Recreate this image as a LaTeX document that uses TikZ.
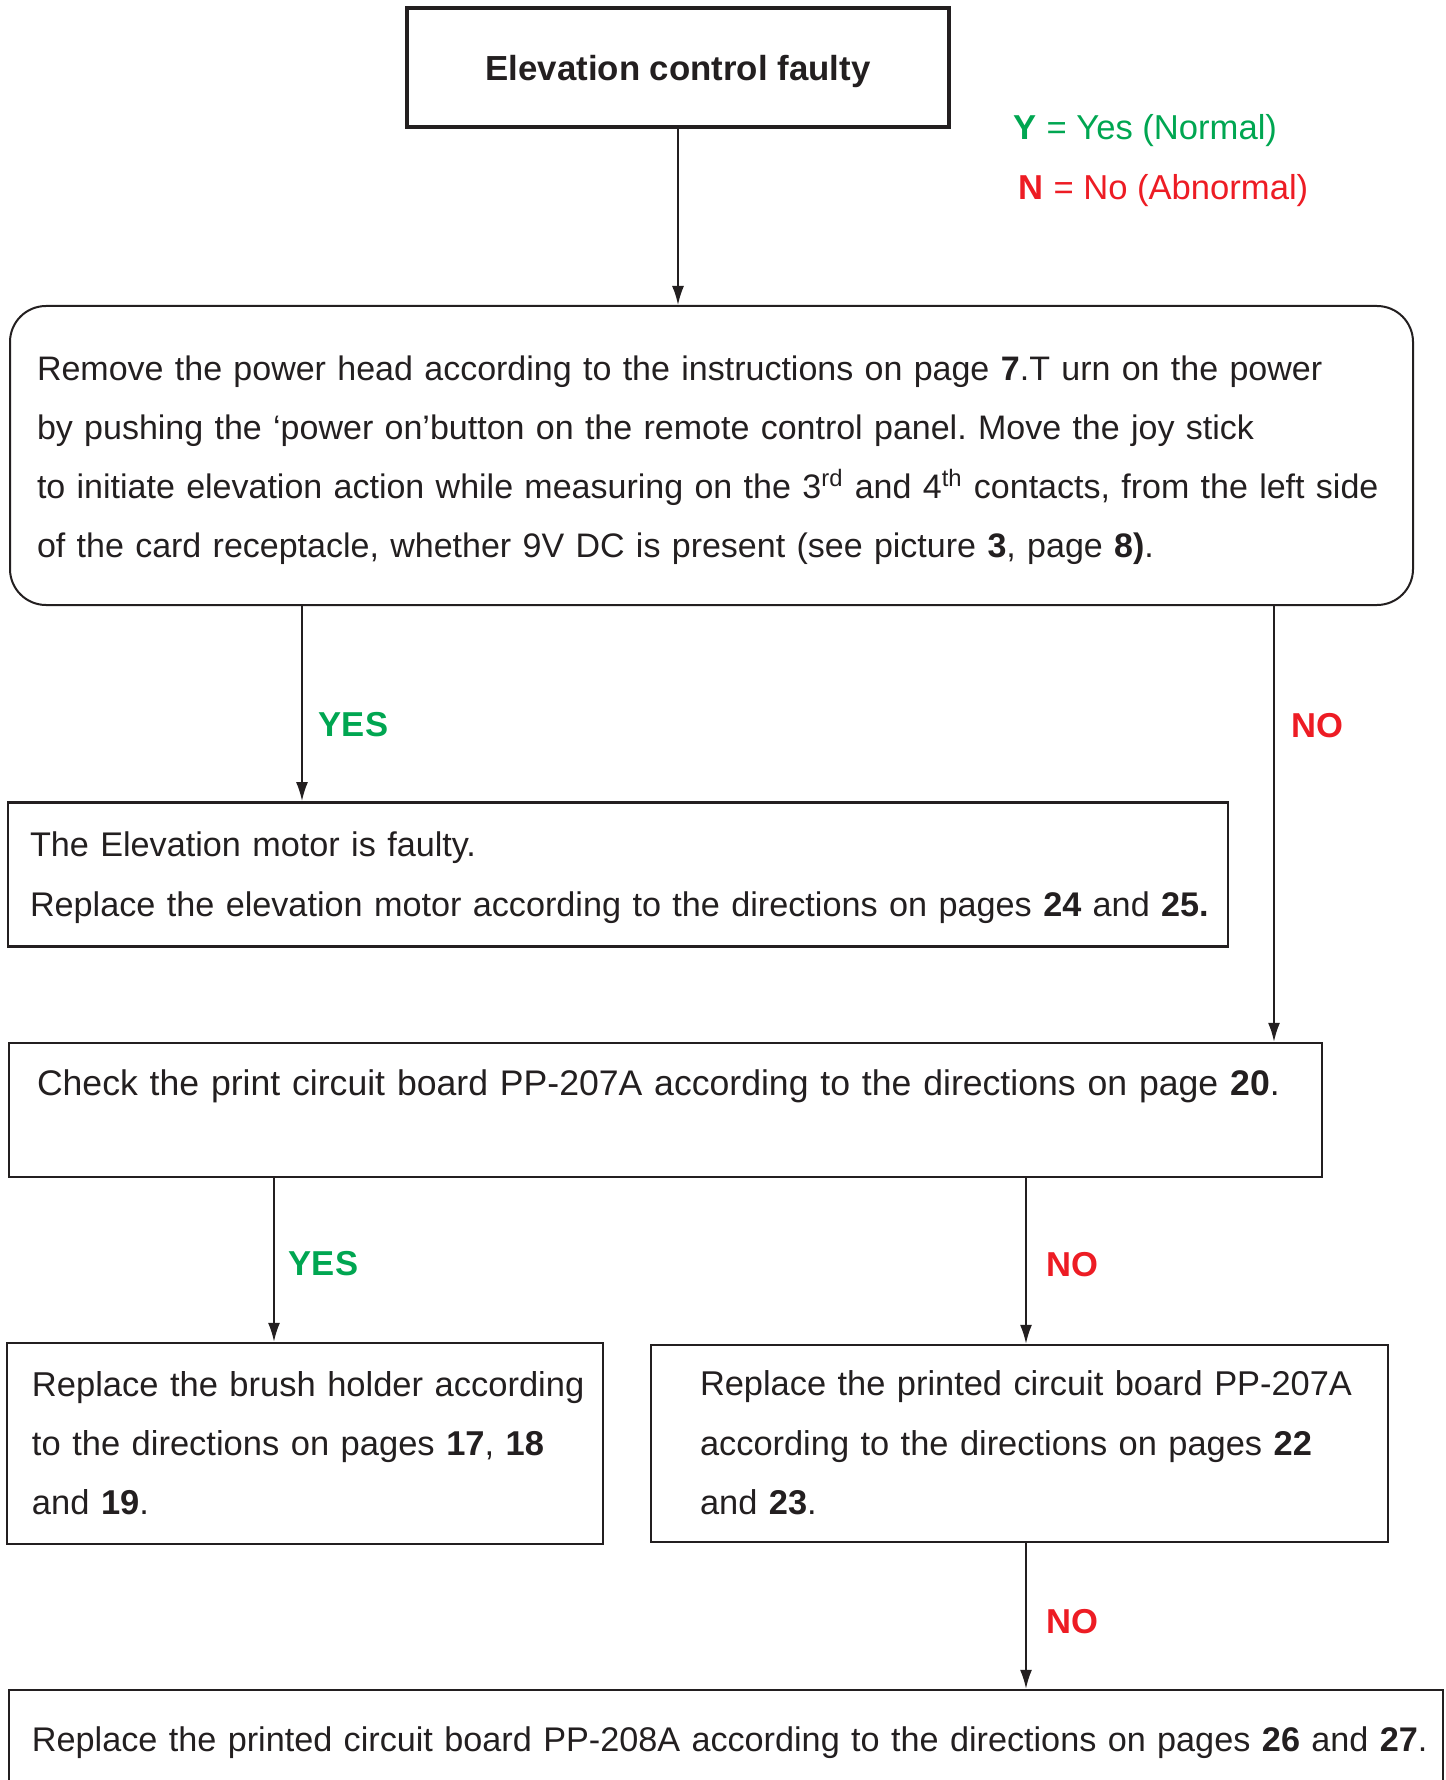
\documentclass[tikz,border=0pt]{standalone}
\usepackage{fontspec}
\setmainfont{Liberation Sans}
\usepackage{tikz}
\usetikzlibrary{arrows.meta, positioning}

\definecolor{ink}{RGB}{35,31,32}
\definecolor{yesgreen}{RGB}{0,166,81}
\definecolor{nored}{RGB}{237,28,36}
\newcommand{\sizedfont}[1]{\fontsize{#1}{29.65}\selectfont}
\frenchspacing

\begin{document}
\begin{tikzpicture}[
            x = 0.5pt, y = -0.5pt, % one unit = one pixel of the chart
            > = {Latex[length=9.5pt, width=6pt]}, % arrow head style
            color = ink,
            font = \sizedfont{17.3},
            line width = 0.9pt % line style
        ]
        \tikzstyle{box}=[
            draw = ink,
            line width = 1.2pt,
            align = left,
            inner ysep = 0pt
        ]
        \tikzstyle{answer}=[
            inner sep = 0pt,
            font = \sizedfont{17.3}\bfseries
        ]
        \tikzstyle{yeslabel}=[answer, text = yesgreen]
        \tikzstyle{nolabel}=[answer, text = nored]

        \useasboundingbox (0,0) rectangle (1445,1780);

        % columns of the arrows
        \coordinate (yes1) at (302,0);
        \coordinate (no1) at (1274,0);
        \coordinate (yes2) at (274,0);
        \coordinate (no2) at (1026,0);

        \node[box, line width=2.2pt, align=center, inner sep=0pt, minimum width=270.75pt, minimum height=59.5pt, text depth=0pt, font={\sizedfont{17.4}\bfseries}] (fault) at (678,67.5) {Elevation control faulty};

        \node[anchor=base west, inner sep=0pt, text=yesgreen] (ykey) at (1013,140) {\textbf{Y} = Yes (Normal)};
        \node[anchor=base west, inner sep=0pt, text=nored] (nkey) at (1018,200) {\textbf{N} = No (Abnormal)};

        \node[box, line width=1pt, rounded corners=18pt, text width=674.5pt, inner xsep=13.5pt, minimum height=149.5pt, text height=17pt, font={\sizedfont{17.0}}] (start) at (711.5,455.5)
            {Remove the power head according to the instructions on page \textbf{7}.T urn on the power\\
             by pushing the ‘power on’button on the remote control panel. Move the joy stick\\
             \mbox{to initiate elevation action while measuring on the 3\textsuperscript{rd} and 4\textsuperscript{th} contacts, from the left side}\\
             of the card receptacle, whether 9V DC is present (see picture \textbf{3}, page \textbf{8)}.};

        \node[box, text width=588pt, inner xsep=11pt, minimum height=72pt, text height=15.6pt, font={\sizedfont{17.1}}] (motor) at (618,874.3)
            {The Elevation motor is faulty.\\
             \mbox{Replace the elevation motor according to the directions on pages \textbf{24} and \textbf{25.}}};

        \node[box, text width=628.5pt, inner xsep=14pt, minimum height=67pt, text depth=27.5pt, font={\sizedfont{17.8}}] (check) at (665.5,1110)
            {\mbox{Check the print circuit board PP-207A according to the directions on page \textbf{20}.}};

        \node[box, text width=273pt, inner xsep=12.5pt, minimum height=100.5pt, text height=12.2pt, font={\sizedfont{17.25}}] (brush) at (305,1443.5)
            {\mbox{Replace the brush holder according}\\
             to the directions on pages \textbf{17}, \textbf{18}\\
             and \textbf{19}.};

        \node[box, text width=319.5pt, inner xsep=24.5pt, minimum height=98.5pt, text height=11.8pt, font={\sizedfont{17.2}}] (pcb207) at (1019.5,1443.5)
            {\mbox{Replace the printed circuit board PP-207A}\\
             according to the directions on pages \textbf{22}\\
             and \textbf{23}.};

        \node[box, text width=694pt, inner xsep=11.5pt, minimum height=53pt, font={\sizedfont{17.1}}] (pcb208) at (726,1743)
            {\mbox{Replace the printed circuit board PP-208A according to the directions on pages \textbf{26} and \textbf{27}.}};

        \path[->] (fault) edge (fault.south |- start.north);
        \path[->] (start.south -| yes1) edge node[yeslabel, pos=0.61, right=8pt]{YES} (motor.north -| yes1);
        \path[->] (start.south -| no1) edge node[nolabel, pos=0.274, right=8.5pt]{NO} (check.north -| no1);
        \path[->] (check.south -| yes2) edge node[yeslabel, pos=0.52, right=7pt]{YES} (brush.north -| yes2);
        \path[->] (check.south -| no2) edge node[nolabel, pos=0.52, right=10pt]{NO} (pcb207.north -| no2);
        \path[->] (pcb207.south -| no2) edge node[nolabel, pos=0.54, right=10pt]{NO} (pcb208.north -| no2);
    \end{tikzpicture}
\end{document}
